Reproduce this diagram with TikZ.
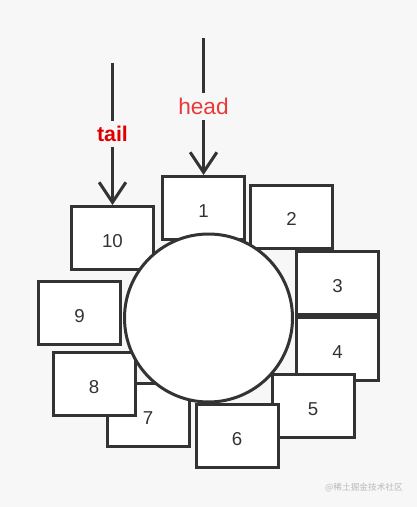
\documentclass[tikz,border=0pt]{standalone}
\usepackage{fontspec}
\setmainfont{Liberation Sans}
\newfontfamily\cjk{Noto Sans CJK SC}
\usetikzlibrary{arrows.meta}
\definecolor{bg}{RGB}{247,247,247}
\definecolor{ink}{RGB}{51,51,51}
\definecolor{headred}{RGB}{232,58,58}
\definecolor{tailred}{RGB}{222,0,0}
\definecolor{wmark}{RGB}{185,185,185}

\begin{document}
\begin{tikzpicture}[x=0.75pt, y=-0.75pt,
  numbox/.style={draw=ink, fill=white, line width=2.25pt, inner sep=0pt,
    minimum width=61.5pt, minimum height=47.25pt, text=ink,
    text height=14pt, text depth=0pt,
    font=\fontsize{14}{14}\selectfont},
  ring/.style={circle, draw=ink, fill=white, line width=2.25pt,
    inner sep=0pt, minimum size=126pt},
  pointer/.style={draw=ink, line width=2.25pt,
    -{Straight Barb[length=15pt, width=20pt]}},
  ptrlabel/.style={fill=bg, inner xsep=1pt, inner ysep=4pt}]
  % Canvas
  \useasboundingbox (0,0) rectangle (417,507);
  \fill[bg] (0,0) rectangle (417,507);
  % Slots around the ring
  \node[numbox] (b1)  at (203.5,208)   {1};
  \node[numbox] (b2)  at (291.5,216.5) {2};
  \node[numbox] (b3)  at (337.5,283)   {3};
  \node[numbox] (b4)  at (337.5,349)   {4};
  \node[numbox] (b5)  at (313,406)     {5};
  \node[numbox] (b7)  at (148,415)     {7};
  \node[numbox] (b8)  at (94,384)      {8};
  \node[numbox] (b9)  at (79.5,313)    {9};
  \node[numbox] (b10) at (112.5,238)   {10};
  % Ring in the middle
  \node[ring] (hub) at (208.5,318) {};
  \node[numbox] (b6)  at (237,436)     {6};
  % Head and tail pointers
  \coordinate (headtop) at (203.5,38);
  \coordinate (tailtop) at (112.5,63);
  \draw[pointer] (headtop) -- node[ptrlabel, text=headred,
    font=\fontsize{17}{17}\selectfont] (hlabel) {head} (b1.north);
  \draw[pointer] (tailtop) -- node[ptrlabel, text=tailred,
    font=\fontsize{16}{16}\selectfont\bfseries] (tlabel) {tail} (b10.north);
  % Watermark
  \node[text=wmark, font=\cjk\fontsize{6.5}{6.5}\selectfont] (credit)
    at (364,488) {@稀土掘金技术社区};
\end{tikzpicture}
\end{document}
